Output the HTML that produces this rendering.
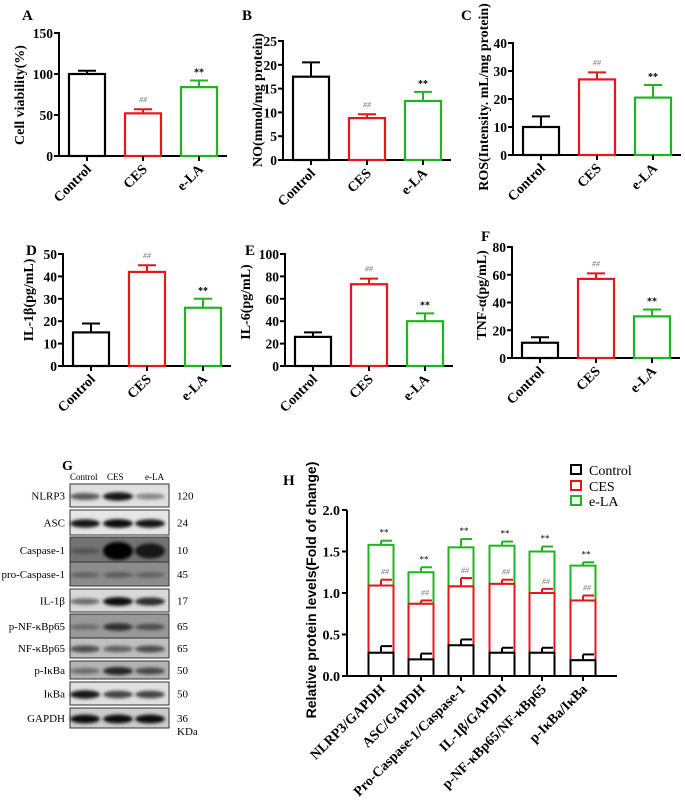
<!DOCTYPE html>
<html><head><meta charset="utf-8"><style>body{margin:0;background:#fff}svg{display:block}</style></head>
<body>
<svg id="s" width="685" height="800" xmlns="http://www.w3.org/2000/svg" font-family="Liberation Serif, serif">
<defs><filter id="bl" x="-20%" y="-100%" width="140%" height="300%"><feGaussianBlur stdDeviation="1.6"/></filter></defs>
</svg>
<script>
const S=document.getElementById('s');const NS='http://www.w3.org/2000/svg';
function el(t,a,txt){const e=document.createElementNS(NS,t);for(const k in a)e.setAttribute(k,a[k]);if(txt!==undefined)e.textContent=txt;S.appendChild(e);return e;}
const cols=['#000','#e8151b','#1fb521'];
function panel(o){
 const {ax,y0,yt,max,step,vals,errs,label,letter,lx,ly}=o;
 const sc=(y0-yt)/max, Y=v=>y0-v*sc;
 el('line',{x1:ax,y1:yt-1,x2:ax,y2:y0,stroke:'#000','stroke-width':2});
 el('line',{x1:ax,y1:y0,x2:ax+168,y2:y0,stroke:'#000','stroke-width':2});
 for(let v=0;v<=max+1e-9;v+=step){el('line',{x1:ax-5,y1:Y(v),x2:ax,y2:Y(v),stroke:'#000','stroke-width':2});
  el('text',{x:ax-6,y:Y(v)+5,'text-anchor':'end','font-size':13.5,'font-weight':'bold'},String(v));}
 const offs=[28,84,140],names=['Control','CES','e-LA'];
 offs.forEach((o2,i)=>{const cx=ax+o2;
  el('line',{x1:cx,y1:Y(vals[i]),x2:cx,y2:Y(errs[i]),stroke:cols[i],'stroke-width':2});
  el('line',{x1:cx-9,y1:Y(errs[i]),x2:cx+9,y2:Y(errs[i]),stroke:cols[i],'stroke-width':2});
  el('rect',{x:cx-18,y:Y(vals[i]),width:36,height:y0-Y(vals[i]),fill:'#fff',stroke:cols[i],'stroke-width':2.2});
  el('line',{x1:cx,y1:y0,x2:cx,y2:y0+5,stroke:'#000','stroke-width':2});
  el('text',{x:cx+5,y:y0+14,'text-anchor':'end','font-size':14,'font-weight':'bold',transform:`rotate(-45 ${cx+5} ${y0+14})`},names[i]);
  if(i==1)el('text',{x:cx,y:Y(errs[i])-7,'text-anchor':'middle','font-size':8,fill:'#777','font-style':'italic'},'##');
  if(i==2)el('text',{x:cx,y:Y(errs[i])-5,'text-anchor':'middle','font-size':10,'font-weight':'bold'},'**');
 });
 el('text',{x:lx,y:ly,'font-size':14,'font-weight':'bold','text-anchor':'middle',transform:`rotate(-90 ${lx} ${ly})`},label);
 el('text',{x:letter[0],y:letter[1],'font-size':15,'font-weight':'bold'},letter[2]);
}
panel({ax:59,y0:156,yt:33,max:150,step:50,vals:[100,52,84],errs:[104,57,92],label:'Cell viability(%)',lx:24,ly:95,letter:[22,20,'A']});
panel({ax:283,y0:160,yt:41,max:25,step:5,vals:[17.5,8.8,12.4],errs:[20.5,9.6,14.3],label:'NO(mmol/mg protein)',lx:262,ly:100,letter:[242,20,'B']});
panel({ax:513,y0:155,yt:43,max:40,step:10,vals:[10,27,20.5],errs:[13.8,29.5,25],label:'ROS(Intensity. mL/mg protein)',lx:488,ly:97,letter:[461,20,'C']});
panel({ax:63,y0:366,yt:254,max:50,step:10,vals:[15,42,26],errs:[19,45,30],label:'IL-1β(pg/mL)',lx:33,ly:300,letter:[26,255,'D']});
panel({ax:285,y0:366,yt:254,max:100,step:20,vals:[26,73,40],errs:[30,78,47],label:'IL-6(pg/mL)',lx:250,ly:302,letter:[245,255,'E']});
panel({ax:512,y0:358,yt:247,max:80,step:20,vals:[11,57,30],errs:[15,61,35],label:'TNF-α(pg/mL)',lx:486,ly:295,letter:[481,241,'F']});

// Blot G
el('text',{x:62,y:470,'font-size':14,'font-weight':'bold'},'G');
[['Control',70],['CES',107],['e-LA',145]].forEach(a=>el('text',{x:a[1],y:480,'font-size':9},a[0]));
const rows=[['NLRP3',484,507,[.6,.9,.4],'120',.12],['ASC',510,535,[.9,.95,.9],'24',.1],['Caspase-1',537,563,[.3,1,.8],'10',.55],
['pro-Caspase-1',562,586,[.3,.35,.3],'45',.45],['IL-1β',589,612,[.5,.95,.8],'17',.15],['p-NF-κBp65',614,638,[.3,.7,.5],'65',.4],
['NF-κBp65',638,658,[.6,.5,.6],'65',.25],['p-IκBa',661,679,[.4,.8,.6],'50',.3],['IκBa',682,705,[.9,.7,.7],'50',.12],['GAPDH',708,728,[.95,.95,.95],'36',.2]];
rows.forEach(r=>{const [n,a,b,ints,mw,bg]=r;const g=Math.round(255*(1-bg));
 el('rect',{x:70,y:a,width:99,height:b-a,fill:`rgb(${g},${g},${g})`,stroke:'#333','stroke-width':1});
 [85,118,150].forEach((cx,i)=>{const k=ints[i];el('ellipse',{cx:cx,cy:(a+b)/2+1,rx:15,ry:2+k*(n=='Caspase-1'&&i>0?7:2.5),fill:'#000','fill-opacity':k,filter:'url(#bl)'});});
 el('text',{x:65,y:(a+b)/2+4,'text-anchor':'end','font-size':11},n);
 el('text',{x:177,y:(a+b)/2+4,'font-size':11},mw);});
el('text',{x:177,y:735,'font-size':11},'KDa');

// Panel H
const ax=347,y0=676,yt=510,sc=(y0-yt)/2,Y=v=>y0-v*sc;
el('line',{x1:ax,y1:yt,x2:ax,y2:y0,stroke:'#000','stroke-width':2});
el('line',{x1:ax,y1:y0,x2:617,y2:y0,stroke:'#000','stroke-width':2});
for(let v=0;v<=2;v+=.5){el('line',{x1:ax-5,y1:Y(v),x2:ax,y2:Y(v),stroke:'#000','stroke-width':2});
 el('text',{x:ax-7,y:Y(v)+5,'text-anchor':'end','font-size':14,'font-weight':'bold'},v.toFixed(1));}
const D=[['NLRP3/GAPDH',381,[.28,1.09,1.58],[.36,1.16,1.63]],['ASC/GAPDH',421,[.2,.87,1.25],[.27,.91,1.31]],
['Pro-Caspase-1/Caspase-1',461,[.37,1.08,1.55],[.44,1.18,1.65]],['IL-1β/GAPDH',502,[.28,1.11,1.57],[.34,1.16,1.62]],
['p-NF-κBp65/NF-κBp65',542,[.28,1.0,1.5],[.34,1.05,1.56]],['p-IκBa/IκBa',583,[.19,.91,1.33],[.26,.97,1.37]]];
D.forEach(d=>{const [n,cx,v,e]=d;
 for(let i=2;i>=0;i--){const base=i?v[i-1]:0;
  el('rect',{x:cx-12.5,y:Y(v[i]),width:25,height:Y(base)-Y(v[i]),fill:'#fff',stroke:cols[i],'stroke-width':2});}
 for(let i=0;i<3;i++){el('line',{x1:cx,y1:Y(v[i]),x2:cx,y2:Y(e[i]),stroke:cols[i],'stroke-width':2});
  el('line',{x1:cx,y1:Y(e[i]),x2:cx+11,y2:Y(e[i]),stroke:cols[i],'stroke-width':2});}
 el('text',{x:cx+4,y:Y(e[1])-5,'text-anchor':'middle','font-size':8,fill:'#777','font-style':'italic'},'##');
 el('text',{x:cx+3,y:Y(e[2])-5,'text-anchor':'middle','font-size':9},'**');
 el('line',{x1:cx,y1:y0,x2:cx,y2:y0+5,stroke:'#000','stroke-width':2});
 el('text',{x:cx+5,y:y0+14,'text-anchor':'end','font-size':14,'font-weight':'bold',transform:`rotate(-45 ${cx+5} ${y0+14})`},n);});
el('text',{x:316,y:590,'font-size':14,'font-weight':'bold','font-family':'Liberation Sans, sans-serif','text-anchor':'middle',transform:'rotate(-90 316 590)'},'Relative protein levels(Fold of change)');
el('text',{x:283,y:485,'font-size':15,'font-weight':'bold'},'H');
[['Control',471],['CES',487],['e-LA',502]].forEach((a,i)=>{el('rect',{x:571,y:a[1]-6,width:10,height:9,fill:'#fff',stroke:cols[i],'stroke-width':2});
 el('text',{x:589,y:a[1]+4,'font-size':14},a[0]);});
</script>
</body></html>
